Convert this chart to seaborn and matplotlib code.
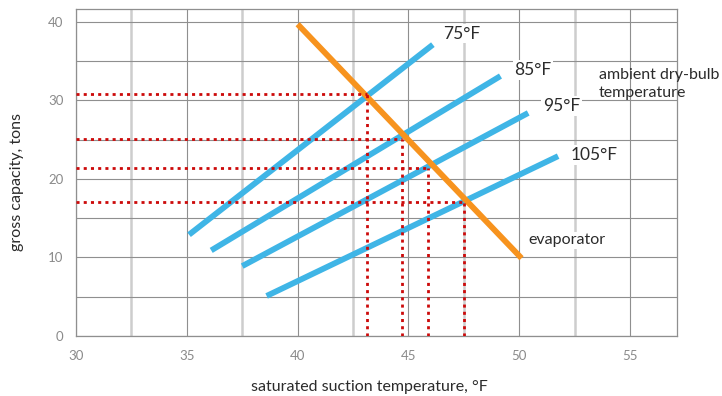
import matplotlib
matplotlib.use("Agg")
import matplotlib.pyplot as plt
import numpy as np
import pandas as pd
import seaborn as sns

# Condensing-unit curves: gross capacity vs saturated suction temperature
ambient_labels = ["75°F", "85°F", "95°F", "105°F"]
unit_temp_start = [35.1, 36.1, 37.5, 38.6]
unit_temp_end = [46.1, 49.15, 50.4, 51.75]
unit_cap_start = [12.9, 10.9, 8.9, 5.1]
unit_cap_end = [37.1, 33.1, 28.4, 22.9]

# Evaporator curve
evap_temp = [40.0, 50.1]
evap_cap = [39.7, 9.9]

# Balance points (unit curve meets evaporator curve)
balance_temp = [43.15, 44.7, 45.9, 47.5]
balance_cap = [30.8, 25.05, 21.45, 17.1]

x_ticks = [30, 35, 40, 45, 50, 55]
y_ticks = [0, 10, 20, 30, 40]

BLUE = "#3fb5e6"
ORANGE = "#f7931e"
RED = "#cc0a0a"
GRID_DARK = "#8f8f8f"
GRID_LIGHT = "#cdcdcd"
TICK_GRAY = "#8a8a8a"
TEXT = "#2b2b2b"

sns.set_theme(style="white")
plt.rcParams["font.family"] = ["Lato", "DejaVu Sans"]

fig = plt.figure(figsize=(7.22, 3.96), dpi=100)
ax = fig.add_axes([76 / 722, 1 - 336 / 396, 600.7 / 722, 326.7 / 396])

rows = []
for lab, x0, x1, y0, y1 in zip(ambient_labels, unit_temp_start, unit_temp_end,
                               unit_cap_start, unit_cap_end):
    rows.append({"ambient": lab, "temp": x0, "cap": y0})
    rows.append({"ambient": lab, "temp": x1, "cap": y1})
units = pd.DataFrame(rows)
evap = pd.DataFrame({"temp": evap_temp, "cap": evap_cap})

sns.lineplot(data=units, x="temp", y="cap", hue="ambient",
             palette=[BLUE] * len(ambient_labels), linewidth=4.2,
             solid_capstyle="butt", legend=False, ax=ax, zorder=3)
sns.lineplot(data=evap, x="temp", y="cap", color=ORANGE, linewidth=4.2,
             solid_capstyle="butt", ax=ax, zorder=4)

xmin, xmax = 30, 57.1
ymin, ymax = 0, 41.6
ax.set_xlim(xmin, xmax)
ax.set_ylim(ymin, ymax)

# Dotted guides from each balance point to both axes
dot_style = dict(color=RED, linewidth=2.0, linestyle=(0, (1.1, 1.5)),
                 zorder=5)
for bx, by in zip(balance_temp, balance_cap):
    ax.plot([xmin, bx], [by, by], dash_capstyle="butt", **dot_style)
    ax.plot([bx, bx], [ymin, by], dash_capstyle="butt", **dot_style)

# Grid: darker lines on the labelled values, lighter half-steps on x
ax.set_xticks(x_ticks)
ax.set_xticks([32.5, 37.5, 42.5, 47.5, 52.5], minor=True)
ax.set_yticks(y_ticks)
ax.set_yticks([5, 15, 25, 35], minor=True)
ax.grid(True, which="major", axis="both", color=GRID_DARK, linewidth=0.8)
ax.grid(True, which="minor", axis="y", color=GRID_DARK, linewidth=0.8)
ax.grid(True, which="minor", axis="x", color=GRID_LIGHT, linewidth=1.8)
ax.set_axisbelow(True)

ax.tick_params(axis="both", which="both", length=0, colors=TICK_GRAY,
               labelsize=9.5)
ax.tick_params(axis="x", pad=10)
ax.tick_params(axis="y", pad=9)
for sp in ax.spines.values():
    sp.set_color(GRID_DARK)
    sp.set_linewidth(0.9)

ax.set_xlabel("saturated suction temperature, °F", fontsize=11.5,
              color=TEXT, va="center")
ax.xaxis.set_label_coords(0.4878, -0.155)
ax.set_ylabel("gross capacity, tons", fontsize=11.5, color=TEXT,
              va="center")
ax.yaxis.set_label_coords(-0.098, 0.47)

# Curve labels next to the upper ends of the unit curves
offsets = [(10, 11), (14, 6), (15, 7), (13, 1)]
for lab, x1, y1, (dx, dy) in zip(ambient_labels, unit_temp_end,
                                 unit_cap_end, offsets):
    ax.annotate(lab, xy=(x1, y1), xytext=(dx, dy), textcoords="offset pixels",
                ha="left", va="center", fontsize=12.5, color=TEXT, zorder=6,
                bbox=dict(boxstyle="square,pad=0.1", fc="white", ec="none"))

ax.annotate("evaporator", xy=(evap_temp[1], evap_cap[1]), xytext=(7, 18),
            textcoords="offset pixels", ha="left", va="center",
            fontsize=11.5, color=TEXT, zorder=6,
            bbox=dict(boxstyle="square,pad=0.1", fc="white", ec="none"))

ax.text(0.8707, 0.7714, "ambient dry-bulb\ntemperature",
        transform=ax.transAxes, ha="left", va="center", fontsize=11.5,
        color=TEXT, linespacing=1.4, clip_on=False)

fig.savefig("out.png", dpi=100)
